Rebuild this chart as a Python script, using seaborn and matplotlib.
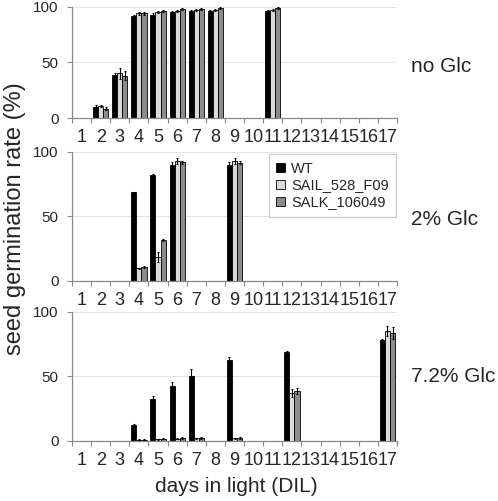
import numpy as np
import pandas as pd
import matplotlib
matplotlib.use("Agg")
import matplotlib.pyplot as plt
from matplotlib.container import BarContainer
import seaborn as sns

# ------------------------------------------------------
# data
# ------------------------------------------------------
days = list(range(1, 18))
lines = ["WT", "SAIL_528_F09", "SALK_106049"]
panels = ["no Glc", "2% Glc", "7.2% Glc"]
nan = np.nan

# no Glc
noglc_wt = [nan, 10.5, 38.5, 92, 93, 95, 96, 96, nan, nan, 96, nan, nan, nan, nan, nan, nan]
noglc_sail = [nan, 11, 40.5, 94, 95, 96, 97, 97, nan, nan, 97, nan, nan, nan, nan, nan, nan]
noglc_salk = [nan, 8.7, 38, 94, 96, 98, 98, 99, nan, nan, 99, nan, nan, nan, nan, nan, nan]
noglc_wt_err = [0, 1.5, 2.5, 1, 1, 1, 1, 1, 0, 0, 1, 0, 0, 0, 0, 0, 0]
noglc_sail_err = [0, 1, 5, 1, 1, 1, 1, 1, 0, 0, 1, 0, 0, 0, 0, 0, 0]
noglc_salk_err = [0, 1, 4, 1, 1, 1, 1, 1, 0, 0, 1, 0, 0, 0, 0, 0, 0]

# 2% Glc
glc2_wt = [nan, nan, nan, 68.5, 82, 90, nan, nan, 90, nan, nan, nan, nan, nan, nan, nan, nan]
glc2_sail = [nan, nan, nan, 9.6, 18.6, 92.8, nan, nan, 92.8, nan, nan, nan, nan, nan, nan, nan, nan]
glc2_salk = [nan, nan, nan, 10.8, 31.5, 91.8, nan, nan, 91.5, nan, nan, nan, nan, nan, nan, nan, nan]
glc2_wt_err = [0, 0, 0, 0.5, 0.8, 2, 0, 0, 2, 0, 0, 0, 0, 0, 0, 0, 0]
glc2_sail_err = [0, 0, 0, 0.5, 4, 2, 0, 0, 2, 0, 0, 0, 0, 0, 0, 0, 0]
glc2_salk_err = [0, 0, 0, 0.6, 1, 1, 0, 0, 1, 0, 0, 0, 0, 0, 0, 0, 0]

# 7.2% Glc
glc72_wt = [nan, nan, nan, 12.2, 32.3, 42.6, 50.4, nan, 62.6, nan, nan, 68.5, nan, nan, nan, nan, 78]
glc72_sail = [nan, nan, nan, 0.8, 1.2, 1.5, 1.8, nan, 1.8, nan, nan, 36.7, nan, nan, nan, nan, 85]
glc72_salk = [nan, nan, nan, 0.8, 1.5, 2, 2, nan, 2, nan, nan, 38.5, nan, nan, nan, nan, 83.5]
glc72_wt_err = [0, 0, 0, 0.6, 2, 3, 5, 0, 2, 0, 0, 1, 0, 0, 0, 0, 1]
glc72_sail_err = [0, 0, 0, 0.3, 0.3, 0.5, 0.5, 0, 0.5, 0, 0, 3, 0, 0, 0, 0, 4]
glc72_salk_err = [0, 0, 0, 0.3, 0.5, 0.5, 0.5, 0, 0.5, 0, 0, 2, 0, 0, 0, 0, 5]

values = {
    "no Glc": [noglc_wt, noglc_sail, noglc_salk],
    "2% Glc": [glc2_wt, glc2_sail, glc2_salk],
    "7.2% Glc": [glc72_wt, glc72_sail, glc72_salk],
}
errors = {
    "no Glc": [noglc_wt_err, noglc_sail_err, noglc_salk_err],
    "2% Glc": [glc2_wt_err, glc2_sail_err, glc2_salk_err],
    "7.2% Glc": [glc72_wt_err, glc72_sail_err, glc72_salk_err],
}

colors = ["#000000", "#dadada", "#8c8c8c"]

# ------------------------------------------------------
# style
# ------------------------------------------------------
sns.set_theme(style="white")
plt.rcParams["font.family"] = ["Liberation Sans", "DejaVu Sans"]

fig = plt.figure(figsize=(4.98, 5.01), dpi=100)
# axes boxes [left, bottom, width, height] in figure fraction
boxes = [
    [0.1446, 0.7639, 0.6526, 0.2227],
    [0.1446, 0.4397, 0.6526, 0.2575],
    [0.1446, 0.1204, 0.6526, 0.2575],
]
title_y = [0.462, 0.474, 0.494]

for i, panel in enumerate(panels):
    ax = fig.add_axes(boxes[i])
    rows = []
    for j, line in enumerate(lines):
        for k, d in enumerate(days):
            rows.append({"day": str(d), "line": line,
                         "rate": values[panel][j][k], "err": errors[panel][j][k]})
    df = pd.DataFrame(rows)
    err_lookup = {(r.day, r.line): r.err for r in df.itertuples()}

    sns.barplot(data=df.dropna(), x="day", y="rate", hue="line",
                order=[str(d) for d in days], hue_order=lines,
                palette=colors, errorbar=None, width=0.8,
                edgecolor="black", linewidth=0.6, ax=ax,
                legend=(i == 1))

    # error bars from the drawn bars
    bar_conts = [c for c in ax.containers if isinstance(c, BarContainer)]
    for j, cont in enumerate(bar_conts):
        for p in cont.patches:
            xc = p.get_x() + p.get_width() / 2
            d = str(days[int(round(xc))])
            e = err_lookup[(d, lines[j])]
            if e > 0:
                ax.errorbar(xc, p.get_height(), yerr=e, fmt="none",
                            ecolor="black", elinewidth=0.8, capsize=1,
                            capthick=0.8, zorder=5)

    ax.set_xlim(-0.5, len(days) - 0.5)
    ax.set_ylim(0, 100)
    ax.set_yticks([0, 50, 100])
    ax.set_xticks(range(len(days)))
    ax.set_xticklabels([str(d) for d in days])
    ax.set_xticks(np.arange(-0.5, len(days), 1), minor=True)
    ax.tick_params(axis="x", which="major", length=0, pad=8, labelsize=13)
    ax.tick_params(axis="x", which="minor", length=3.5, width=0.8,
                   color="#888888", direction="out", bottom=True)
    ax.tick_params(axis="y", length=3.5, width=0.8, color="#888888",
                   direction="out", left=True, pad=6, labelsize=11)
    ax.yaxis.grid(True, color="#e4e4e4", linewidth=0.8)
    ax.set_axisbelow(True)
    for s in ["top", "right"]:
        ax.spines[s].set_visible(False)
    for s in ["left", "bottom"]:
        ax.spines[s].set_color("#888888")
        ax.spines[s].set_linewidth(0.9)
    ax.set_xlabel("")
    ax.set_ylabel("")

    ax.text(1.042, title_y[i], panel, transform=ax.transAxes,
            fontsize=15, va="center", ha="left")

    if i == 1:
        leg = ax.legend(loc="upper right", bbox_to_anchor=(0.997, 0.98),
                        borderaxespad=0, fontsize=10.5, frameon=True,
                        fancybox=False, handlelength=0.6, handleheight=0.6,
                        handletextpad=0.4, labelspacing=0.2,
                        borderpad=0.5)
        leg.get_frame().set_edgecolor("#bbbbbb")
        leg.get_frame().set_linewidth(0.8)
        for h in leg.legend_handles:
            h.set_edgecolor("black")
            h.set_linewidth(0.6)

fig.text(0.03, 0.563, "seed germination rate (%)", rotation=90,
         fontsize=17, va="center", ha="center")
fig.text(0.474, 0.028, "days in light (DIL)", fontsize=15,
         va="center", ha="center")

plt.savefig("out.png", dpi=100)
